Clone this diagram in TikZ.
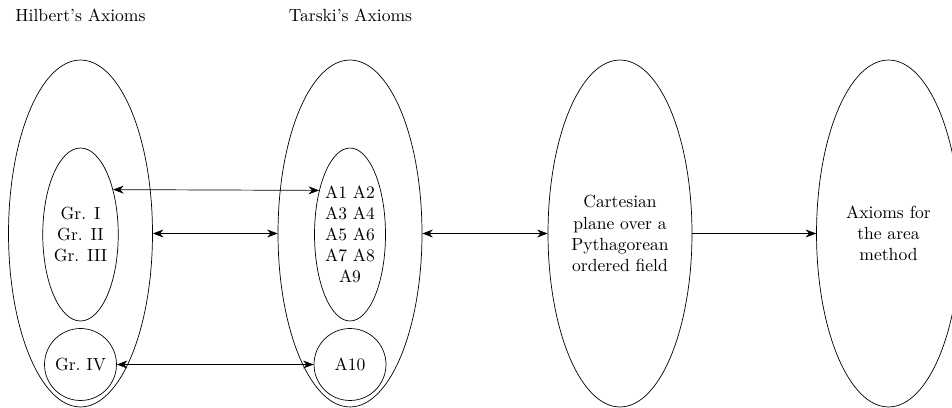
\documentclass[tikz,border=0pt]{standalone}
\usetikzlibrary{shapes.geometric,arrows.meta}
\begin{document}
\begin{tikzpicture}[x=0.02cm,y=-0.02cm,>={Stealth[length=6pt,width=4.5pt]},
  bigell/.style={draw,ellipse,inner sep=0pt,minimum width=2.88cm,minimum height=6.94cm,align=center},
  smallell/.style={draw,ellipse,inner sep=0pt,minimum width=1.42cm,minimum height=3.46cm,align=center},
  smallcirc/.style={draw,circle,inner sep=0pt,minimum size=1.44cm,align=center},
  lbl/.style={anchor=base,inner sep=0pt}]
\useasboundingbox (0,0) rectangle (952,408);
\node[lbl] (hl) at (80.5,22) {Hilbert's Axioms};
\node[lbl] (tl) at (350.5,22) {Tarski's Axioms};
\node[bigell] (hil) at (80.5,233.5) {};
\node[smallell] (gr) at (80.5,234.5) {Gr. I\\Gr. II\\Gr. III};
\node[smallcirc] (gr4) at (80.5,364.5) {Gr.\ IV};
\node[bigell] (tar) at (350,233.5) {};
\node[smallell] (aa) at (350,234.5) {A1 A2\\A3 A4\\A5 A6\\A7 A8\\A9};
\node[smallcirc] (a10) at (350,364.5) {A10};
\node[bigell] (cart) at (620,233.5) {Cartesian\\plane over a\\Pythagorean\\ordered field};
\node[bigell] (area) at (888.5,233.5) {Axioms for\\the area\\method};
\draw[<->] (gr.54.4) -- (aa.125.6);
\draw[<->] (hil.east) -- (tar.west);
\draw[<->] (gr4.east) -- (a10.west);
\draw[<->] (tar.east) -- (cart.west);
\draw[->] (cart.east) -- (area.west);
\end{tikzpicture}
\end{document}
